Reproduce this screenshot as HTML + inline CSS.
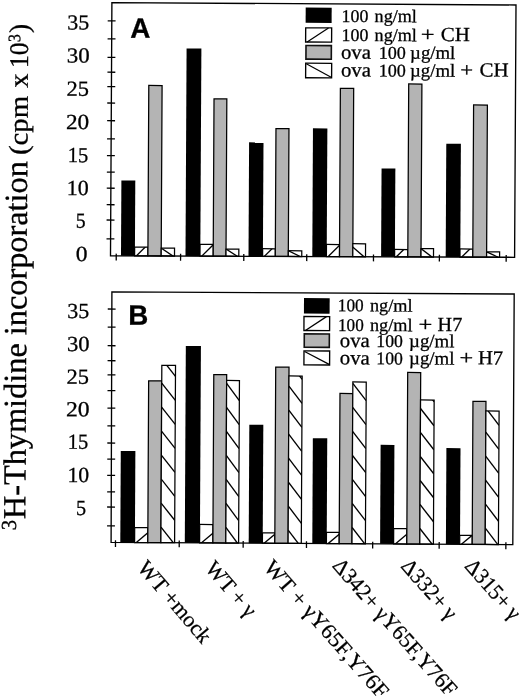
<!DOCTYPE html>
<html><head><meta charset="utf-8"><title>Figure</title><style>html,body{margin:0;padding:0;background:#fff;overflow:hidden;}svg{display:block;will-change:transform;}</style></head><body>
<svg width="520" height="696" viewBox="0 0 520 696"><rect width="520" height="696" fill="#fff"/><g transform="rotate(0.3 260 348)"><rect x="120.52" y="181.19" width="13.9" height="75.36" fill="#000"/>
<clipPath id="c1"><rect x="134.12" y="247.72" width="13.3" height="8.81"/></clipPath>
<rect x="134.12" y="247.72" width="13.3" height="8.81" fill="#fff" stroke="#000" stroke-width="1.25"/>
<line x1="135.82" y1="256.54" x2="149.42" y2="242.94" stroke="#000" stroke-width="1.35" clip-path="url(#c1)"/>
<rect x="147.42" y="86.06" width="13.3" height="170.46" fill="#b4b4b4" stroke="#000" stroke-width="1.25"/>
<clipPath id="c2"><rect x="160.72" y="248.68" width="13.3" height="7.81"/></clipPath>
<rect x="160.72" y="248.68" width="13.3" height="7.81" fill="#fff" stroke="#000" stroke-width="1.25"/>
<line x1="172.52" y1="256.5" x2="158.72" y2="247.36" stroke="#000" stroke-width="1.35" clip-path="url(#c2)"/>
<rect x="185.02" y="48.86" width="14.8" height="207.6" fill="#000"/>
<clipPath id="c3"><rect x="199.52" y="244.68" width="13.2" height="11.76"/></clipPath>
<rect x="199.52" y="244.68" width="13.2" height="11.76" fill="#fff" stroke="#000" stroke-width="1.25"/>
<line x1="201.22" y1="256.44" x2="214.72" y2="242.94" stroke="#000" stroke-width="1.35" clip-path="url(#c3)"/>
<rect x="212.72" y="99.11" width="12.8" height="157.3" fill="#b4b4b4" stroke="#000" stroke-width="1.25"/>
<clipPath id="c4"><rect x="225.52" y="249.25" width="12.8" height="7.15"/></clipPath>
<rect x="225.52" y="249.25" width="12.8" height="7.15" fill="#fff" stroke="#000" stroke-width="1.25"/>
<line x1="236.82" y1="256.4" x2="223.52" y2="247.98" stroke="#000" stroke-width="1.35" clip-path="url(#c4)"/>
<rect x="248.02" y="142.43" width="14.4" height="113.94" fill="#000"/>
<clipPath id="c5"><rect x="262.12" y="248.7" width="12.7" height="7.64"/></clipPath>
<rect x="262.12" y="248.7" width="12.7" height="7.64" fill="#fff" stroke="#000" stroke-width="1.25"/>
<line x1="263.82" y1="256.34" x2="276.82" y2="243.34" stroke="#000" stroke-width="1.35" clip-path="url(#c5)"/>
<rect x="274.82" y="128.59" width="13" height="127.73" fill="#b4b4b4" stroke="#000" stroke-width="1.25"/>
<clipPath id="c6"><rect x="287.82" y="250.57" width="13.45" height="5.73"/></clipPath>
<rect x="287.82" y="250.57" width="13.45" height="5.73" fill="#fff" stroke="#000" stroke-width="1.25"/>
<line x1="299.77" y1="256.3" x2="285.82" y2="249.61" stroke="#000" stroke-width="1.35" clip-path="url(#c6)"/>
<rect x="311.82" y="128.09" width="14.4" height="128.17" fill="#000"/>
<clipPath id="c7"><rect x="325.92" y="244.12" width="13.1" height="12.13"/></clipPath>
<rect x="325.92" y="244.12" width="13.1" height="12.13" fill="#fff" stroke="#000" stroke-width="1.25"/>
<line x1="327.62" y1="256.25" x2="341.02" y2="242.85" stroke="#000" stroke-width="1.35" clip-path="url(#c7)"/>
<rect x="339.02" y="87.85" width="13.3" height="168.37" fill="#b4b4b4" stroke="#000" stroke-width="1.25"/>
<clipPath id="c8"><rect x="352.32" y="243.23" width="12.7" height="12.97"/></clipPath>
<rect x="352.32" y="243.23" width="12.7" height="12.97" fill="#fff" stroke="#000" stroke-width="1.25"/>
<line x1="363.52" y1="256.21" x2="350.32" y2="245.01" stroke="#000" stroke-width="1.35" clip-path="url(#c8)"/>
<rect x="380.62" y="167.83" width="13.8" height="88.33" fill="#000"/>
<clipPath id="c9"><rect x="394.12" y="248.76" width="13.2" height="7.38"/></clipPath>
<rect x="394.12" y="248.76" width="13.2" height="7.38" fill="#fff" stroke="#000" stroke-width="1.25"/>
<line x1="395.82" y1="256.14" x2="409.32" y2="242.64" stroke="#000" stroke-width="1.35" clip-path="url(#c9)"/>
<rect x="407.32" y="83.2" width="13.2" height="172.93" fill="#b4b4b4" stroke="#000" stroke-width="1.25"/>
<clipPath id="c10"><rect x="420.52" y="247.83" width="12.5" height="8.28"/></clipPath>
<rect x="420.52" y="247.83" width="12.5" height="8.28" fill="#fff" stroke="#000" stroke-width="1.25"/>
<line x1="431.52" y1="256.1" x2="418.52" y2="246.32" stroke="#000" stroke-width="1.35" clip-path="url(#c10)"/>
<rect x="445.22" y="142.69" width="14.6" height="113.37" fill="#000"/>
<clipPath id="c11"><rect x="459.52" y="247.92" width="12.8" height="8.12"/></clipPath>
<rect x="459.52" y="247.92" width="12.8" height="8.12" fill="#fff" stroke="#000" stroke-width="1.25"/>
<line x1="461.22" y1="256.04" x2="474.32" y2="242.94" stroke="#000" stroke-width="1.35" clip-path="url(#c11)"/>
<rect x="472.32" y="103.85" width="13.8" height="152.17" fill="#b4b4b4" stroke="#000" stroke-width="1.25"/>
<clipPath id="c12"><rect x="486.12" y="250.58" width="13" height="5.42"/></clipPath>
<rect x="486.12" y="250.58" width="13" height="5.42" fill="#fff" stroke="#000" stroke-width="1.25"/>
<line x1="497.62" y1="256" x2="484.12" y2="249.64" stroke="#000" stroke-width="1.35" clip-path="url(#c12)"/>
<polygon points="110.09,3.38 514.2,3.66 514.12,255.97 110.02,256.58" fill="none" stroke="#000" stroke-width="1.35"/>
<line x1="105.99" y1="21.6" x2="113.89" y2="21.6" stroke="#000" stroke-width="1.3"/>
<line x1="105.98" y1="39.7" x2="113.88" y2="39.7" stroke="#000" stroke-width="1.3"/>
<line x1="105.98" y1="58.2" x2="113.88" y2="58.2" stroke="#000" stroke-width="1.3"/>
<line x1="105.97" y1="73" x2="113.87" y2="73" stroke="#000" stroke-width="1.3"/>
<line x1="105.97" y1="87.4" x2="113.87" y2="87.4" stroke="#000" stroke-width="1.3"/>
<line x1="105.96" y1="103.8" x2="113.86" y2="103.8" stroke="#000" stroke-width="1.3"/>
<line x1="105.96" y1="121.5" x2="113.86" y2="121.5" stroke="#000" stroke-width="1.3"/>
<line x1="105.95" y1="139.6" x2="113.85" y2="139.6" stroke="#000" stroke-width="1.3"/>
<line x1="105.95" y1="156.4" x2="113.85" y2="156.4" stroke="#000" stroke-width="1.3"/>
<line x1="105.94" y1="172.9" x2="113.84" y2="172.9" stroke="#000" stroke-width="1.3"/>
<line x1="105.94" y1="189" x2="113.84" y2="189" stroke="#000" stroke-width="1.3"/>
<line x1="105.93" y1="205.5" x2="113.83" y2="205.5" stroke="#000" stroke-width="1.3"/>
<line x1="105.93" y1="220.8" x2="113.83" y2="220.8" stroke="#000" stroke-width="1.3"/>
<line x1="105.92" y1="239.61" x2="113.82" y2="239.61" stroke="#000" stroke-width="1.3"/>
<line x1="115.76" y1="254.38" x2="115.76" y2="261.18" stroke="#000" stroke-width="1.3"/>
<line x1="180.11" y1="254.28" x2="180.11" y2="261.08" stroke="#000" stroke-width="1.3"/>
<line x1="243.31" y1="254.18" x2="243.31" y2="260.98" stroke="#000" stroke-width="1.3"/>
<line x1="306.26" y1="254.08" x2="306.26" y2="260.88" stroke="#000" stroke-width="1.3"/>
<line x1="373.01" y1="253.98" x2="373.01" y2="260.78" stroke="#000" stroke-width="1.3"/>
<line x1="438.91" y1="253.88" x2="438.91" y2="260.68" stroke="#000" stroke-width="1.3"/>
<line x1="505.71" y1="253.78" x2="505.71" y2="260.58" stroke="#000" stroke-width="1.3"/>
<rect x="121.32" y="451.69" width="14.6" height="91.49" fill="#000"/>
<clipPath id="c13"><rect x="135.62" y="528.22" width="13.2" height="14.96"/></clipPath>
<rect x="135.62" y="528.22" width="13.2" height="14.96" fill="#fff" stroke="#000" stroke-width="1.25"/>
<line x1="137.32" y1="543.18" x2="150.82" y2="531.71" stroke="#000" stroke-width="1.35" clip-path="url(#c13)"/>
<rect x="148.82" y="381.35" width="13.1" height="161.83" fill="#b4b4b4" stroke="#000" stroke-width="1.25"/>
<clipPath id="c14"><rect x="161.92" y="365.88" width="13.7" height="177.31"/></clipPath>
<rect x="161.92" y="365.88" width="13.7" height="177.31" fill="#fff" stroke="#000" stroke-width="1.25"/>
<line x1="161.92" y1="527.59" x2="175.62" y2="544.79" stroke="#000" stroke-width="1.35" clip-path="url(#c14)"/>
<line x1="161.92" y1="503.59" x2="175.62" y2="520.79" stroke="#000" stroke-width="1.35" clip-path="url(#c14)"/>
<line x1="161.92" y1="479.59" x2="175.62" y2="496.79" stroke="#000" stroke-width="1.35" clip-path="url(#c14)"/>
<line x1="161.92" y1="455.59" x2="175.62" y2="472.79" stroke="#000" stroke-width="1.35" clip-path="url(#c14)"/>
<line x1="161.92" y1="431.59" x2="175.62" y2="448.79" stroke="#000" stroke-width="1.35" clip-path="url(#c14)"/>
<line x1="161.92" y1="407.59" x2="175.62" y2="424.79" stroke="#000" stroke-width="1.35" clip-path="url(#c14)"/>
<line x1="161.92" y1="383.59" x2="175.62" y2="400.79" stroke="#000" stroke-width="1.35" clip-path="url(#c14)"/>
<line x1="161.92" y1="359.59" x2="175.62" y2="376.79" stroke="#000" stroke-width="1.35" clip-path="url(#c14)"/>
<rect x="185.82" y="346.35" width="15.1" height="196.84" fill="#000"/>
<clipPath id="c15"><rect x="200.62" y="524.78" width="13.3" height="18.42"/></clipPath>
<rect x="200.62" y="524.78" width="13.3" height="18.42" fill="#fff" stroke="#000" stroke-width="1.25"/>
<line x1="202.32" y1="543.2" x2="215.92" y2="531.64" stroke="#000" stroke-width="1.35" clip-path="url(#c15)"/>
<rect x="213.92" y="374.81" width="12.9" height="168.39" fill="#b4b4b4" stroke="#000" stroke-width="1.25"/>
<clipPath id="c16"><rect x="226.82" y="380.65" width="12.8" height="162.56"/></clipPath>
<rect x="226.82" y="380.65" width="12.8" height="162.56" fill="#fff" stroke="#000" stroke-width="1.25"/>
<line x1="226.82" y1="527.61" x2="239.62" y2="544.81" stroke="#000" stroke-width="1.35" clip-path="url(#c16)"/>
<line x1="226.82" y1="503.61" x2="239.62" y2="520.81" stroke="#000" stroke-width="1.35" clip-path="url(#c16)"/>
<line x1="226.82" y1="479.61" x2="239.62" y2="496.81" stroke="#000" stroke-width="1.35" clip-path="url(#c16)"/>
<line x1="226.82" y1="455.61" x2="239.62" y2="472.81" stroke="#000" stroke-width="1.35" clip-path="url(#c16)"/>
<line x1="226.82" y1="431.61" x2="239.62" y2="448.81" stroke="#000" stroke-width="1.35" clip-path="url(#c16)"/>
<line x1="226.82" y1="407.61" x2="239.62" y2="424.81" stroke="#000" stroke-width="1.35" clip-path="url(#c16)"/>
<line x1="226.82" y1="383.61" x2="239.62" y2="400.81" stroke="#000" stroke-width="1.35" clip-path="url(#c16)"/>
<rect x="249.72" y="424.72" width="14" height="118.49" fill="#000"/>
<clipPath id="c17"><rect x="263.42" y="532.85" width="12.4" height="10.36"/></clipPath>
<rect x="263.42" y="532.85" width="12.4" height="10.36" fill="#fff" stroke="#000" stroke-width="1.25"/>
<line x1="265.12" y1="543.21" x2="277.82" y2="532.42" stroke="#000" stroke-width="1.35" clip-path="url(#c17)"/>
<rect x="275.82" y="366.99" width="13.3" height="176.23" fill="#b4b4b4" stroke="#000" stroke-width="1.25"/>
<clipPath id="c18"><rect x="289.12" y="375.82" width="13.2" height="167.4"/></clipPath>
<rect x="289.12" y="375.82" width="13.2" height="167.4" fill="#fff" stroke="#000" stroke-width="1.25"/>
<line x1="289.12" y1="529.92" x2="302.32" y2="547.12" stroke="#000" stroke-width="1.35" clip-path="url(#c18)"/>
<line x1="289.12" y1="505.92" x2="302.32" y2="523.12" stroke="#000" stroke-width="1.35" clip-path="url(#c18)"/>
<line x1="289.12" y1="481.92" x2="302.32" y2="499.12" stroke="#000" stroke-width="1.35" clip-path="url(#c18)"/>
<line x1="289.12" y1="457.92" x2="302.32" y2="475.12" stroke="#000" stroke-width="1.35" clip-path="url(#c18)"/>
<line x1="289.12" y1="433.92" x2="302.32" y2="451.12" stroke="#000" stroke-width="1.35" clip-path="url(#c18)"/>
<line x1="289.12" y1="409.92" x2="302.32" y2="427.12" stroke="#000" stroke-width="1.35" clip-path="url(#c18)"/>
<line x1="289.12" y1="385.92" x2="302.32" y2="403.12" stroke="#000" stroke-width="1.35" clip-path="url(#c18)"/>
<line x1="289.12" y1="361.92" x2="302.32" y2="379.12" stroke="#000" stroke-width="1.35" clip-path="url(#c18)"/>
<rect x="313.32" y="437.89" width="14.4" height="105.34" fill="#000"/>
<clipPath id="c19"><rect x="327.42" y="531.92" width="12.8" height="11.31"/></clipPath>
<rect x="327.42" y="531.92" width="12.8" height="11.31" fill="#fff" stroke="#000" stroke-width="1.25"/>
<line x1="329.12" y1="543.23" x2="342.22" y2="532.1" stroke="#000" stroke-width="1.35" clip-path="url(#c19)"/>
<rect x="340.22" y="393.05" width="12.8" height="150.18" fill="#b4b4b4" stroke="#000" stroke-width="1.25"/>
<clipPath id="c20"><rect x="353.02" y="381.48" width="13.4" height="161.75"/></clipPath>
<rect x="353.02" y="381.48" width="13.4" height="161.75" fill="#fff" stroke="#000" stroke-width="1.25"/>
<line x1="353.02" y1="526.94" x2="366.42" y2="544.14" stroke="#000" stroke-width="1.35" clip-path="url(#c20)"/>
<line x1="353.02" y1="502.94" x2="366.42" y2="520.14" stroke="#000" stroke-width="1.35" clip-path="url(#c20)"/>
<line x1="353.02" y1="478.94" x2="366.42" y2="496.14" stroke="#000" stroke-width="1.35" clip-path="url(#c20)"/>
<line x1="353.02" y1="454.94" x2="366.42" y2="472.14" stroke="#000" stroke-width="1.35" clip-path="url(#c20)"/>
<line x1="353.02" y1="430.94" x2="366.42" y2="448.14" stroke="#000" stroke-width="1.35" clip-path="url(#c20)"/>
<line x1="353.02" y1="406.94" x2="366.42" y2="424.14" stroke="#000" stroke-width="1.35" clip-path="url(#c20)"/>
<line x1="353.02" y1="382.94" x2="366.42" y2="400.14" stroke="#000" stroke-width="1.35" clip-path="url(#c20)"/>
<rect x="381.12" y="444.23" width="13.8" height="99.01" fill="#000"/>
<clipPath id="c21"><rect x="394.62" y="527.96" width="13.2" height="15.28"/></clipPath>
<rect x="394.62" y="527.96" width="13.2" height="15.28" fill="#fff" stroke="#000" stroke-width="1.25"/>
<line x1="396.32" y1="543.25" x2="409.82" y2="531.77" stroke="#000" stroke-width="1.35" clip-path="url(#c21)"/>
<rect x="407.82" y="371.7" width="13" height="171.55" fill="#b4b4b4" stroke="#000" stroke-width="1.25"/>
<clipPath id="c22"><rect x="420.82" y="399.13" width="13.6" height="144.13"/></clipPath>
<rect x="420.82" y="399.13" width="13.6" height="144.13" fill="#fff" stroke="#000" stroke-width="1.25"/>
<line x1="420.82" y1="527.65" x2="434.42" y2="544.85" stroke="#000" stroke-width="1.35" clip-path="url(#c22)"/>
<line x1="420.82" y1="503.65" x2="434.42" y2="520.85" stroke="#000" stroke-width="1.35" clip-path="url(#c22)"/>
<line x1="420.82" y1="479.65" x2="434.42" y2="496.85" stroke="#000" stroke-width="1.35" clip-path="url(#c22)"/>
<line x1="420.82" y1="455.65" x2="434.42" y2="472.85" stroke="#000" stroke-width="1.35" clip-path="url(#c22)"/>
<line x1="420.82" y1="431.65" x2="434.42" y2="448.85" stroke="#000" stroke-width="1.35" clip-path="url(#c22)"/>
<line x1="420.82" y1="407.65" x2="434.42" y2="424.85" stroke="#000" stroke-width="1.35" clip-path="url(#c22)"/>
<line x1="420.82" y1="383.65" x2="434.42" y2="400.85" stroke="#000" stroke-width="1.35" clip-path="url(#c22)"/>
<rect x="446.93" y="447.09" width="14.1" height="96.17" fill="#000"/>
<clipPath id="c23"><rect x="460.73" y="534.32" width="12.5" height="8.94"/></clipPath>
<rect x="460.73" y="534.32" width="12.5" height="8.94" fill="#fff" stroke="#000" stroke-width="1.25"/>
<line x1="462.43" y1="543.26" x2="475.23" y2="532.38" stroke="#000" stroke-width="1.35" clip-path="url(#c23)"/>
<rect x="473.23" y="400.15" width="13" height="143.11" fill="#b4b4b4" stroke="#000" stroke-width="1.25"/>
<clipPath id="c24"><rect x="486.23" y="409.79" width="13.2" height="133.48"/></clipPath>
<rect x="486.23" y="409.79" width="13.2" height="133.48" fill="#fff" stroke="#000" stroke-width="1.25"/>
<line x1="486.23" y1="526.87" x2="499.43" y2="544.07" stroke="#000" stroke-width="1.35" clip-path="url(#c24)"/>
<line x1="486.23" y1="502.87" x2="499.43" y2="520.07" stroke="#000" stroke-width="1.35" clip-path="url(#c24)"/>
<line x1="486.23" y1="478.87" x2="499.43" y2="496.07" stroke="#000" stroke-width="1.35" clip-path="url(#c24)"/>
<line x1="486.23" y1="454.87" x2="499.43" y2="472.07" stroke="#000" stroke-width="1.35" clip-path="url(#c24)"/>
<line x1="486.23" y1="430.87" x2="499.43" y2="448.07" stroke="#000" stroke-width="1.35" clip-path="url(#c24)"/>
<line x1="486.23" y1="406.87" x2="499.43" y2="424.07" stroke="#000" stroke-width="1.35" clip-path="url(#c24)"/>
<polygon points="111.61,292.68 513.91,292.67 513.83,543.27 112.12,543.18" fill="none" stroke="#000" stroke-width="1.35"/>
<line x1="107.54" y1="309.8" x2="115.44" y2="309.8" stroke="#000" stroke-width="1.3"/>
<line x1="107.58" y1="327.9" x2="115.48" y2="327.9" stroke="#000" stroke-width="1.3"/>
<line x1="107.62" y1="346.5" x2="115.52" y2="346.5" stroke="#000" stroke-width="1.3"/>
<line x1="107.65" y1="361.5" x2="115.55" y2="361.5" stroke="#000" stroke-width="1.3"/>
<line x1="107.68" y1="375.7" x2="115.58" y2="375.7" stroke="#000" stroke-width="1.3"/>
<line x1="107.71" y1="391.4" x2="115.61" y2="391.4" stroke="#000" stroke-width="1.3"/>
<line x1="107.75" y1="408.9" x2="115.65" y2="408.9" stroke="#000" stroke-width="1.3"/>
<line x1="107.78" y1="426.6" x2="115.68" y2="426.6" stroke="#000" stroke-width="1.3"/>
<line x1="107.82" y1="443.8" x2="115.72" y2="443.8" stroke="#000" stroke-width="1.3"/>
<line x1="107.85" y1="459.9" x2="115.75" y2="459.9" stroke="#000" stroke-width="1.3"/>
<line x1="107.88" y1="476.2" x2="115.78" y2="476.2" stroke="#000" stroke-width="1.3"/>
<line x1="107.92" y1="492.7" x2="115.82" y2="492.7" stroke="#000" stroke-width="1.3"/>
<line x1="107.95" y1="507.8" x2="115.85" y2="507.8" stroke="#000" stroke-width="1.3"/>
<line x1="107.99" y1="526.7" x2="115.89" y2="526.7" stroke="#000" stroke-width="1.3"/>
<line x1="116.51" y1="540.98" x2="116.51" y2="547.78" stroke="#000" stroke-width="1.3"/>
<line x1="180.26" y1="540.99" x2="180.26" y2="547.79" stroke="#000" stroke-width="1.3"/>
<line x1="244.21" y1="541.01" x2="244.21" y2="547.81" stroke="#000" stroke-width="1.3"/>
<line x1="307.51" y1="541.02" x2="307.51" y2="547.82" stroke="#000" stroke-width="1.3"/>
<line x1="373.71" y1="541.04" x2="373.71" y2="547.84" stroke="#000" stroke-width="1.3"/>
<line x1="440.21" y1="541.06" x2="440.21" y2="547.86" stroke="#000" stroke-width="1.3"/>
<line x1="506.91" y1="541.07" x2="506.91" y2="547.87" stroke="#000" stroke-width="1.3"/>
<text x="65.62" y="30.41" font-size="21.5" text-anchor="start" font-family="Liberation Serif, serif" textLength="21.88" lengthAdjust="spacingAndGlyphs"  stroke="#000" stroke-width="0.3">35</text>
<text x="65.24" y="63.52" font-size="21.5" text-anchor="start" font-family="Liberation Serif, serif" textLength="22.86" lengthAdjust="spacingAndGlyphs"  stroke="#000" stroke-width="0.3">30</text>
<text x="65.17" y="96.82" font-size="21.5" text-anchor="start" font-family="Liberation Serif, serif" textLength="22.39" lengthAdjust="spacingAndGlyphs"  stroke="#000" stroke-width="0.3">25</text>
<text x="64.91" y="130.02" font-size="21.5" text-anchor="start" font-family="Liberation Serif, serif" textLength="23.15" lengthAdjust="spacingAndGlyphs"  stroke="#000" stroke-width="0.3">20</text>
<text x="66.85" y="163.11" font-size="21.5" text-anchor="start" font-family="Liberation Serif, serif" textLength="20.39" lengthAdjust="spacingAndGlyphs"  stroke="#000" stroke-width="0.3">15</text>
<text x="65.99" y="196.01" font-size="21.5" text-anchor="start" font-family="Liberation Serif, serif" textLength="21.87" lengthAdjust="spacingAndGlyphs"  stroke="#000" stroke-width="0.3">10</text>
<text x="75.13" y="228.77" font-size="21.5" text-anchor="start" font-family="Liberation Serif, serif" textLength="9.83" lengthAdjust="spacingAndGlyphs"  stroke="#000" stroke-width="0.3">5</text>
<text x="75.23" y="261.97" font-size="21.5" text-anchor="start" font-family="Liberation Serif, serif" textLength="11.74" lengthAdjust="spacingAndGlyphs"  stroke="#000" stroke-width="0.3">0</text>
<text x="67.13" y="318.91" font-size="21.5" text-anchor="start" font-family="Liberation Serif, serif" textLength="21.88" lengthAdjust="spacingAndGlyphs"  stroke="#000" stroke-width="0.3">35</text>
<text x="67.07" y="351.91" font-size="21.5" text-anchor="start" font-family="Liberation Serif, serif" textLength="22.53" lengthAdjust="spacingAndGlyphs"  stroke="#000" stroke-width="0.3">30</text>
<text x="66.68" y="384.81" font-size="21.5" text-anchor="start" font-family="Liberation Serif, serif" textLength="22.39" lengthAdjust="spacingAndGlyphs"  stroke="#000" stroke-width="0.3">25</text>
<text x="66.4" y="417.31" font-size="21.5" text-anchor="start" font-family="Liberation Serif, serif" textLength="23.58" lengthAdjust="spacingAndGlyphs"  stroke="#000" stroke-width="0.3">20</text>
<text x="68.35" y="449.7" font-size="21.5" text-anchor="start" font-family="Liberation Serif, serif" textLength="20.39" lengthAdjust="spacingAndGlyphs"  stroke="#000" stroke-width="0.3">15</text>
<text x="68.22" y="483.01" font-size="21.5" text-anchor="start" font-family="Liberation Serif, serif" textLength="21.64" lengthAdjust="spacingAndGlyphs"  stroke="#000" stroke-width="0.3">10</text>
<text x="76.81" y="516.06" font-size="21.5" text-anchor="start" font-family="Liberation Serif, serif" textLength="10.07" lengthAdjust="spacingAndGlyphs"  stroke="#000" stroke-width="0.3">5</text>
<text x="128.66" y="38.48" font-size="28" text-anchor="start" font-family="Liberation Sans, sans-serif" font-weight="bold" textLength="20.14" lengthAdjust="spacingAndGlyphs"  stroke="#000" stroke-width="0.3">A</text>
<text x="128.05" y="325.49" font-size="28" text-anchor="start" font-family="Liberation Sans, sans-serif" font-weight="bold" textLength="20.04" lengthAdjust="spacingAndGlyphs"  stroke="#000" stroke-width="0.3">B</text>
<rect x="303.92" y="7.37" width="25.98" height="15.26" fill="#000"/>
<rect x="304.02" y="27.57" width="25.97" height="14.16" fill="#fff" stroke="#000" stroke-width="1.35"/>
<line x1="305.52" y1="41.73" x2="326.8" y2="27.57" stroke="#000" stroke-width="1.25"/>
<rect x="304.41" y="45.26" width="25.38" height="13.66" fill="#b4b4b4" stroke="#111" stroke-width="1.6"/>
<rect x="304.21" y="62.96" width="25.98" height="14.56" fill="#fff" stroke="#000" stroke-width="1.35"/>
<line x1="304.81" y1="63.56" x2="330.18" y2="77.13" stroke="#000" stroke-width="1.25"/>
<text x="339.91" y="21.58" font-size="18" text-anchor="start" font-family="Liberation Serif, serif" textLength="26.7" lengthAdjust="spacingAndGlyphs"  stroke="#000" stroke-width="0.3">100</text>
<text x="372.91" y="21.4" font-size="18" text-anchor="start" font-family="Liberation Serif, serif" textLength="42.23" lengthAdjust="spacingAndGlyphs"  stroke="#000" stroke-width="0.3">ng/ml</text>
<text x="340.01" y="40.58" font-size="18" text-anchor="start" font-family="Liberation Serif, serif" textLength="26.7" lengthAdjust="spacingAndGlyphs"  stroke="#000" stroke-width="0.3">100</text>
<text x="373.01" y="40.4" font-size="18" text-anchor="start" font-family="Liberation Serif, serif" textLength="42.23" lengthAdjust="spacingAndGlyphs"  stroke="#000" stroke-width="0.3">ng/ml</text>
<text x="419.22" y="40.16" font-size="20" text-anchor="start" font-family="Liberation Serif, serif" textLength="13.77" lengthAdjust="spacingAndGlyphs"  stroke="#000" stroke-width="0.3">+</text>
<text x="439.11" y="40.06" font-size="20" text-anchor="start" font-family="Liberation Serif, serif" textLength="29.04" lengthAdjust="spacingAndGlyphs"  stroke="#000" stroke-width="0.3">CH</text>
<text x="339.41" y="58.28" font-size="20" text-anchor="start" font-family="Liberation Serif, serif" textLength="29.94" lengthAdjust="spacingAndGlyphs"  stroke="#000" stroke-width="0.3">ova</text>
<text x="377.18" y="58.08" font-size="18" text-anchor="start" font-family="Liberation Serif, serif" textLength="27.14" lengthAdjust="spacingAndGlyphs"  stroke="#000" stroke-width="0.3">100</text>
<text x="408.58" y="57.92" font-size="18.5" text-anchor="start" font-family="Liberation Serif, serif" textLength="45.12" lengthAdjust="spacingAndGlyphs"  stroke="#000" stroke-width="0.3">µg/ml</text>
<text x="339.5" y="76.08" font-size="20" text-anchor="start" font-family="Liberation Serif, serif" textLength="29.94" lengthAdjust="spacingAndGlyphs"  stroke="#000" stroke-width="0.3">ova</text>
<text x="377.27" y="75.88" font-size="18" text-anchor="start" font-family="Liberation Serif, serif" textLength="27.14" lengthAdjust="spacingAndGlyphs"  stroke="#000" stroke-width="0.3">100</text>
<text x="408.67" y="75.72" font-size="18.5" text-anchor="start" font-family="Liberation Serif, serif" textLength="45.12" lengthAdjust="spacingAndGlyphs"  stroke="#000" stroke-width="0.3">µg/ml</text>
<text x="458.78" y="75.46" font-size="20" text-anchor="start" font-family="Liberation Serif, serif" textLength="12.82" lengthAdjust="spacingAndGlyphs"  stroke="#000" stroke-width="0.3">+</text>
<text x="478.09" y="75.35" font-size="20" text-anchor="start" font-family="Liberation Serif, serif" textLength="29.04" lengthAdjust="spacingAndGlyphs"  stroke="#000" stroke-width="0.3">CH</text>
<rect x="303.74" y="297.87" width="25.68" height="15.47" fill="#000"/>
<rect x="303.83" y="316.27" width="25.67" height="13.97" fill="#fff" stroke="#000" stroke-width="1.35"/>
<line x1="305.33" y1="330.24" x2="326.31" y2="316.27" stroke="#000" stroke-width="1.25"/>
<rect x="304.22" y="333.67" width="25.07" height="13.37" fill="#b4b4b4" stroke="#111" stroke-width="1.6"/>
<rect x="304.01" y="350.67" width="25.67" height="13.97" fill="#fff" stroke="#000" stroke-width="1.35"/>
<line x1="304.61" y1="351.27" x2="329.69" y2="364.24" stroke="#000" stroke-width="1.25"/>
<text x="337.67" y="310.89" font-size="18" text-anchor="start" font-family="Liberation Serif, serif" textLength="25.83" lengthAdjust="spacingAndGlyphs"  stroke="#000" stroke-width="0.3">100</text>
<text x="369.83" y="310.72" font-size="18" text-anchor="start" font-family="Liberation Serif, serif" textLength="42.44" lengthAdjust="spacingAndGlyphs"  stroke="#000" stroke-width="0.3">ng/ml</text>
<text x="337.99" y="330.59" font-size="18" text-anchor="start" font-family="Liberation Serif, serif" textLength="25.62" lengthAdjust="spacingAndGlyphs"  stroke="#000" stroke-width="0.3">100</text>
<text x="369.93" y="330.42" font-size="18" text-anchor="start" font-family="Liberation Serif, serif" textLength="42.44" lengthAdjust="spacingAndGlyphs"  stroke="#000" stroke-width="0.3">ng/ml</text>
<text x="418.44" y="330.17" font-size="20" text-anchor="start" font-family="Liberation Serif, serif" textLength="13.77" lengthAdjust="spacingAndGlyphs"  stroke="#000" stroke-width="0.3">+</text>
<text x="437.5" y="330.07" font-size="20" text-anchor="start" font-family="Liberation Serif, serif" textLength="24.65" lengthAdjust="spacingAndGlyphs"  stroke="#000" stroke-width="0.3">H7</text>
<text x="339.82" y="346.58" font-size="20" text-anchor="start" font-family="Liberation Serif, serif" textLength="29.84" lengthAdjust="spacingAndGlyphs"  stroke="#000" stroke-width="0.3">ova</text>
<text x="376.32" y="346.39" font-size="18" text-anchor="start" font-family="Liberation Serif, serif" textLength="26.48" lengthAdjust="spacingAndGlyphs"  stroke="#000" stroke-width="0.3">100</text>
<text x="409.08" y="346.22" font-size="18.5" text-anchor="start" font-family="Liberation Serif, serif" textLength="45.32" lengthAdjust="spacingAndGlyphs"  stroke="#000" stroke-width="0.3">µg/ml</text>
<text x="339.91" y="363.88" font-size="20" text-anchor="start" font-family="Liberation Serif, serif" textLength="29.84" lengthAdjust="spacingAndGlyphs"  stroke="#000" stroke-width="0.3">ova</text>
<text x="376.41" y="363.69" font-size="18" text-anchor="start" font-family="Liberation Serif, serif" textLength="26.48" lengthAdjust="spacingAndGlyphs"  stroke="#000" stroke-width="0.3">100</text>
<text x="409.18" y="363.52" font-size="18.5" text-anchor="start" font-family="Liberation Serif, serif" textLength="45.32" lengthAdjust="spacingAndGlyphs"  stroke="#000" stroke-width="0.3">µg/ml</text>
<text x="459.52" y="363.26" font-size="20" text-anchor="start" font-family="Liberation Serif, serif" textLength="13.65" lengthAdjust="spacingAndGlyphs"  stroke="#000" stroke-width="0.3">+</text>
<text x="478.07" y="363.16" font-size="20" text-anchor="start" font-family="Liberation Serif, serif" textLength="25.17" lengthAdjust="spacingAndGlyphs"  stroke="#000" stroke-width="0.3">H7</text>
<text transform="translate(17.05 531.53) rotate(-90)" font-size="21.5" font-family="Liberation Serif, serif" textLength="10.27" lengthAdjust="spacingAndGlyphs" stroke="#000" stroke-width="0.3">3</text>
<text transform="translate(26.26 520.4) rotate(-90)" font-size="32.3" font-family="Liberation Serif, serif" textLength="358.08" lengthAdjust="spacingAndGlyphs" stroke="#000" stroke-width="0.3">H-Thymidine incorporation</text>
<text transform="translate(26.46 156.22) rotate(-90)" font-size="27" font-family="Liberation Serif, serif" textLength="59.18" lengthAdjust="spacingAndGlyphs" stroke="#000" stroke-width="0.3">(cpm</text>
<text transform="translate(26.5 89.05) rotate(-90)" font-size="27" font-family="Liberation Serif, serif" textLength="14.19" lengthAdjust="spacingAndGlyphs" stroke="#000" stroke-width="0.3">x</text>
<text transform="translate(26.51 69.25) rotate(-90)" font-size="27" font-family="Liberation Serif, serif" textLength="25.58" lengthAdjust="spacingAndGlyphs" stroke="#000" stroke-width="0.3">10</text>
<text transform="translate(18.73 43.22) rotate(-90)" font-size="17.7" font-family="Liberation Serif, serif" textLength="7.79" lengthAdjust="spacingAndGlyphs" stroke="#000" stroke-width="0.3">3</text>
<text transform="translate(26.53 34.29) rotate(-90)" font-size="27.5" font-family="Liberation Serif, serif" textLength="9.13" lengthAdjust="spacingAndGlyphs" stroke="#000" stroke-width="0.3">)</text>
<text transform="translate(137.75 568.84) rotate(49.2)" font-size="22" font-family="Liberation Serif, serif" stroke="#000" stroke-width="0.25">WT +mock</text>
<text transform="translate(205.46 569.39) rotate(48.6)" font-size="22" font-family="Liberation Serif, serif" textLength="65.5" lengthAdjust="spacingAndGlyphs" stroke="#000" stroke-width="0.25">WT + γ</text>
<text transform="translate(263.85 567.98) rotate(48.2)" font-size="22" font-family="Liberation Serif, serif" textLength="176" lengthAdjust="spacingAndGlyphs" stroke="#000" stroke-width="0.25">WT + γY65F,Y76F</text>
<text transform="translate(332.64 565.92) rotate(48.2)" font-size="22" font-family="Liberation Serif, serif" textLength="175.5" lengthAdjust="spacingAndGlyphs" stroke="#000" stroke-width="0.25">Δ342+ γY65F,Y76F</text>
<text transform="translate(401.14 565.96) rotate(48.2)" font-size="22" font-family="Liberation Serif, serif" textLength="72.5" lengthAdjust="spacingAndGlyphs" stroke="#000" stroke-width="0.25">Δ332+ γ</text>
<text transform="translate(464.94 565.63) rotate(48.2)" font-size="22" font-family="Liberation Serif, serif" textLength="72.5" lengthAdjust="spacingAndGlyphs" stroke="#000" stroke-width="0.25">Δ315+ γ</text></g></svg>
</body></html>
